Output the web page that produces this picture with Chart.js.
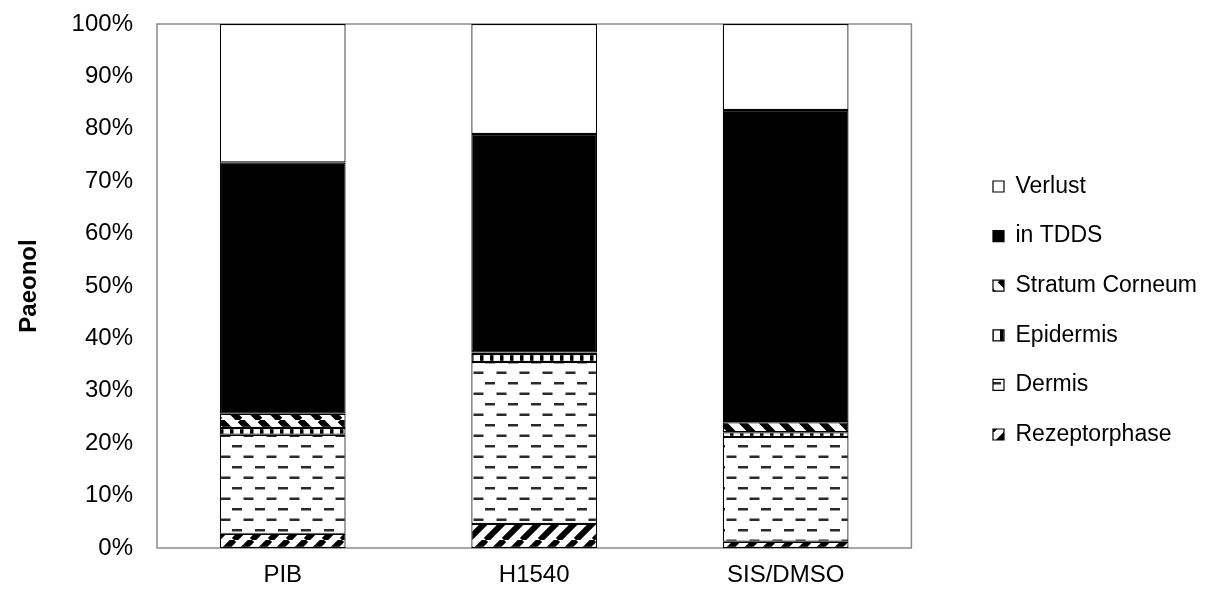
<!DOCTYPE html>
<html>
<head>
<meta charset="utf-8">
<script src="https://cdn.jsdelivr.net/npm/chart.js@4.4.1/dist/chart.umd.min.js"></script>
<style>
  html, body { margin: 0; padding: 0; background: #ffffff; }
  #wrap { width: 1207px; height: 597px; }
</style>
</head>
<body>
<div id="wrap"><canvas id="c" width="1207" height="597"></canvas></div>
<script>
// Paeonol distribution per formulation (share of applied dose, %)
const categories = ['PIB', 'H1540', 'SIS/DMSO'];
const rezeptorphase  = [2.7, 4.6, 1.2];
const dermis         = [18.9, 30.9, 20.0];
const epidermis      = [1.3, 1.5, 0.9];
const stratumCorneum = [2.7, 0.3, 1.9];
const inTDDS         = [48.0, 41.7, 59.6];
const verlust        = [26.4, 21.0, 16.4];
const yTicks = [0, 10, 20, 30, 40, 50, 60, 70, 80, 90, 100];

const FONT = '"Liberation Sans", Arial, sans-serif';
const FS = 24;

// Hatch fills built on small tiles
function tile(w, h, draw) {
  const cv = document.createElement('canvas');
  cv.width = w; cv.height = h;
  const g = cv.getContext('2d');
  g.fillStyle = '#ffffff';
  g.fillRect(0, 0, w, h);
  draw(g, w, h);
  return g.createPattern(cv, 'repeat');
}
const upDiagonal = tile(18, 18, (g, w) => {
  g.strokeStyle = '#000'; g.lineWidth = 6;
  [-w, 0, w].forEach(ox => {
    g.beginPath(); g.moveTo(ox, w); g.lineTo(ox + w, 0); g.stroke();
  });
});
const downDiagonal = tile(20, 20, (g, w) => {
  g.strokeStyle = '#000'; g.lineWidth = 6.5;
  [-w, 0, w].forEach(ox => {
    g.beginPath(); g.moveTo(ox, 0); g.lineTo(ox + w, w); g.stroke();
  });
});
const dashes = tile(23, 21, g => {
  g.fillStyle = '#2a2a2a';
  g.fillRect(2, 4, 10, 2.5);
  g.fillRect(13.5, 14.5, 10, 2.5);
  g.fillRect(-9.5, 14.5, 10, 2.5);
});
const smallChecks = tile(10, 10, g => {
  g.fillStyle = '#000';
  g.fillRect(0, 0, 3.5, 10);
});

function ds(label, data, fill) {
  return {
    label, data,
    backgroundColor: fill,
    borderColor: '#000',
    borderWidth: 1.2,
    borderSkipped: false,
    categoryPercentage: 1.0,
    barPercentage: 0.5
  };
}

// Grey frame around the plot area, under the bars
const plotFrame = {
  id: 'plotFrame',
  beforeDatasetsDraw(chart) {
    const a = chart.chartArea, ctx = chart.ctx;
    ctx.save();
    ctx.strokeStyle = '#8a8a8a';
    ctx.lineWidth = 1.5;
    ctx.strokeRect(a.left, a.top, a.right - a.left, a.bottom - a.top);
    ctx.restore();
  }
};

new Chart(document.getElementById('c'), {
  type: 'bar',
  data: {
    labels: categories,
    datasets: [
      ds('Rezeptorphase', rezeptorphase, upDiagonal),
      ds('Dermis', dermis, dashes),
      ds('Epidermis', epidermis, smallChecks),
      ds('Stratum Corneum', stratumCorneum, downDiagonal),
      ds('in TDDS', inTDDS, '#000000'),
      ds('Verlust', verlust, '#ffffff')
    ]
  },
  plugins: [plotFrame],
  options: {
    responsive: false,
    animation: false,
    layout: { padding: { left: 15, right: 0, top: 24, bottom: 0 } },
    plugins: {
      tooltip: { enabled: false },
      legend: {
        position: 'right',
        reverse: true,
        maxWidth: 320,
        labels: {
          color: '#000',
          font: { family: FONT, size: 23 },
          boxWidth: 11,
          boxHeight: 11,
          padding: 26.6
        }
      }
    },
    scales: {
      x: {
        stacked: true,
        grid: { display: false, drawTicks: false },
        border: { display: false },
        ticks: { color: '#000', font: { family: FONT, size: FS }, padding: 13 },
        afterFit(s) { s.height = 49; }
      },
      y: {
        stacked: true,
        min: 0, max: 100,
        afterBuildTicks(s) { s.ticks = yTicks.map(v => ({ value: v })); },
        grid: { display: false, drawTicks: false },
        border: { display: false },
        ticks: {
          color: '#000',
          font: { family: FONT, size: FS },
          padding: 24,
          callback: v => v + '%'
        },
        title: {
          display: true,
          text: 'Paeonol',
          color: '#000',
          font: { family: FONT, size: FS, weight: 'bold' },
          padding: 0
        },
        afterFit(s) { s.width = 142; s.paddingTop = 0; s.paddingBottom = 0; }
      },
      gap: {
        position: 'right',
        type: 'linear',
        min: 0, max: 1,
        display: true,
        grid: { display: false, drawTicks: false },
        border: { display: false },
        ticks: { display: false },
        afterFit(s) { s.width = 55; s.paddingTop = 0; s.paddingBottom = 0; }
      }
    }
  }
});
</script>
</body>
</html>
